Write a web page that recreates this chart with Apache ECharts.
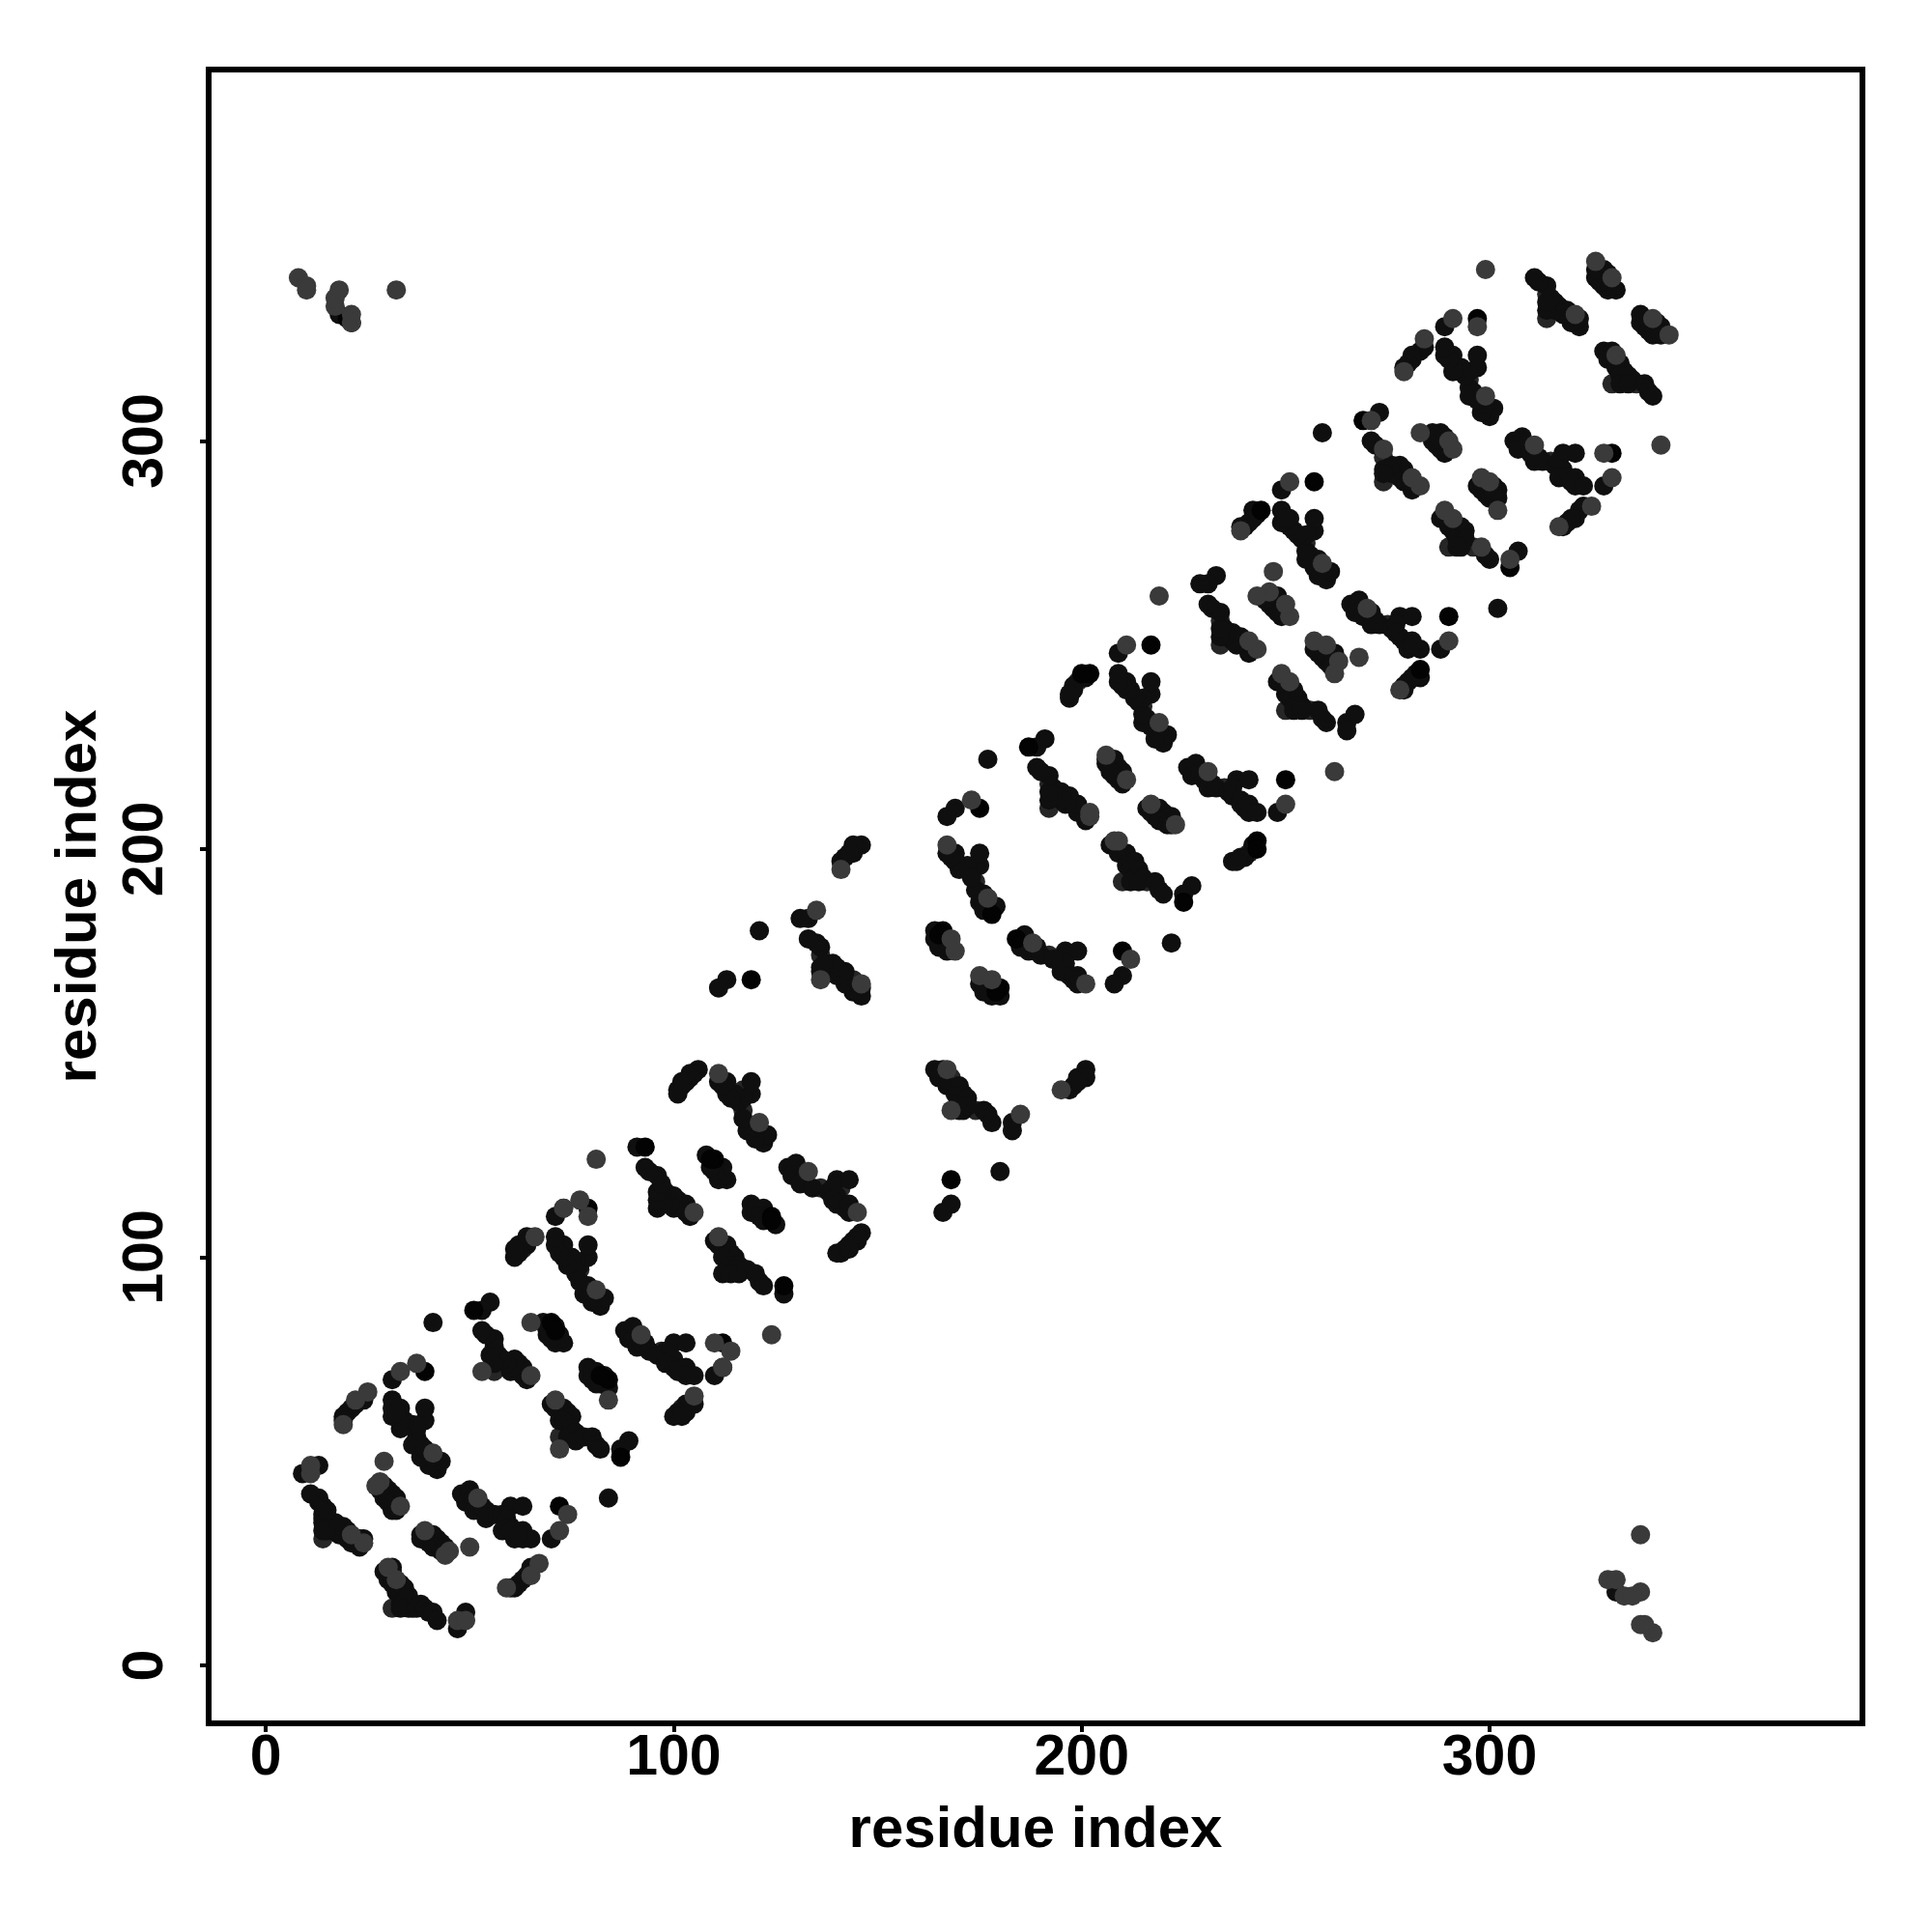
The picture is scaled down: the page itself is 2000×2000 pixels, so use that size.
<!DOCTYPE html>
<html>
<head>
<meta charset="utf-8">
<style>html,body{margin:0;padding:0;background:#fff}#c{width:2000px;height:2000px}</style>
<script src="https://cdn.jsdelivr.net/npm/echarts@6/dist/echarts.min.js"></script>
</head>
<body>
<div id="c"></div>
<script>
const tickValues = [0, 100, 200, 300];
const xTitle = "residue index";
const yTitle = "residue index";

const blackBelow = [[72,39],[84,70],[112,79],[168,119],[127,93],[180,166],[210,175],[243,202],[250,217],[290,257],[330,297],[184,178],[283,244],[243,200],[225,187],[179,165],[124,110],[124,109],[305,269],[87,51],[82,71],[20,330],[21,329]];
const blackAbove = [[39,72],[70,84],[79,112],[119,168],[93,127],[166,180],[175,210],[202,243],[217,250],[257,290],[297,330],[178,184],[244,283],[200,243],[187,225],[165,179],[110,124],[109,124],[269,305],[51,87],[71,82]];

const darkBelow = [[29,23],[31,24],[31,23],[30,21],[31,20],[33,20],[32,18],[33,17],[34,19],[33,15],[34,16],[35,17],[36,14],[35,14],[33,14],[37,14],[38,15],[39,14],[40,13],[41,13],[42,11],
[47,9],[49,13],[65,24],[63,21],[64,22],[62,20],[61,19],[60,19],[70,31],[84,41],
[48,42],[50,43],[49,40],[51,41],[54,38],[51,38],[54,36],[53,39],[60,39],[63,39],[56,37],[58,37],[59,36],[60,34],[58,33],[60,33],[63,33],[61,31],[63,31],[65,31],[62,32],
[38,32],[40,32],[41,32],[38,31],[42,31],[43,30],[40,30],[41,29],[42,29],[44,29],[43,28],
[79,73],[81,72],[79,71],[80,72],[80,70],[81,69],[83,71],[82,69],[84,68],
[70,64],[71,63],[73,63],[74,62],[75,61],[72,60],[73,60],[74,59],[75,58],[76,57],[74,56],[76,55],[78,56],[80,56],[81,54],[82,53],[89,55],[87,53],
[88,82],[90,83],[89,80],[90,80],[93,79],[91,78],[92,79],[94,77],[96,76],[100,79],[103,79],[98,77],[99,76],[100,75],[98,74],[100,73],[103,73],[101,72],[103,71],[105,71],[112,73],[110,71],
[105,64],[103,64],[103,62],[101,62],[100,61],[102,61],
[110,104],[111,103],[113,103],[112,102],[114,101],[115,100],[112,100],[113,99],[114,98],[116,98],[115,97],[112,96],[114,96],[116,96],[118,97],[120,96],[121,94],[122,93],[127,91],
[119,113],[119,111],[120,112],[122,112],[121,110],[123,110],[122,109],[125,108],
[146,106],[145,105],[145,104],[144,104],[143,103],[142,102],[141,101],[140,101],[143,102],
[128,122],[130,123],[129,120],[132,120],[131,118],[134,117],[138,116],[140,119],[143,119],[139,117],[140,115],[139,114],[140,113],[143,113],[142,112],[143,111],
[168,113],[166,111],[180,121],
[164,146],[166,146],[165,144],[167,142],[170,142],[169,140],[171,140],[170,138],[172,139],[170,136],[171,136],[176,136],[177,135],[178,133],[183,133],[183,131],[172,137],
[201,146],[199,144],[201,144],[198,142],[197,141],[199,143],
[186,179],[185,176],[187,175],[189,176],[190,174],[194,173],[196,175],[199,175],[195,172],[196,172],[195,170],[197,169],[199,169],[198,168],[199,167],[193,173],
[175,167],[177,166],[176,165],[180,164],[178,164],
[210,169],[208,167],[222,177],
[207,201],[209,199],[211,199],[213,197],[211,196],[212,195],[214,195],[213,193],[215,193],[212,192],[214,192],[218,192],[219,190],[220,189],[227,191],[225,189],
[242,201],[240,198],[239,198],[237,197],[238,197],
[216,210],[219,210],[220,209],[217,209],[218,208],[222,208],[219,207],[221,206],[222,206],
[226,220],[228,221],[227,218],[229,219],[230,217],[232,216],[231,215],[233,215],[236,214],[238,217],[241,217],[237,215],[237,213],[239,212],[239,211],[241,211],[240,210],[241,209],[243,209],[248,209],
[266,260],[268,261],[267,258],[271,258],[269,257],[272,256],[271,255],[273,255],[276,254],[278,257],[281,257],[277,255],[277,253],[278,252],[279,251],[281,251],[280,249],[283,249],[281,250],[288,249],[302,259],
[283,242],[281,242],[282,243],[280,241],[279,240],[279,239],
[257,249],[258,248],[259,247],[261,248],[262,248],[260,246],[262,245],[261,245],
[248,241],[250,241],[252,239],[250,238],[251,237],[253,237],[252,235],[254,235],[252,234],[254,234],[258,234],[259,232],[260,231],[267,233],[265,231],[265,229],
[306,300],[308,301],[307,298],[309,299],[310,297],[312,296],[311,295],[313,295],[316,294],[318,297],[321,297],[317,295],[318,293],[317,291],[319,291],[321,291],[320,290],[321,289],[323,289],[328,289],
[323,284],[322,283],[321,281],[320,281],[319,280],[318,279],
[297,289],[298,288],[299,287],[301,289],[302,288],[302,286],[300,286],[298,290],[301,287],
[288,281],[290,281],[293,279],[290,279],[291,278],[294,278],[292,276],[294,276],[293,274],[292,274],[299,272],[300,271],[307,273],
[337,331],[337,329],[338,328],[339,327],[341,329],[340,326],[342,328],[342,326],
[328,322],[330,322],[329,320],[332,319],[331,318],[333,317],[332,316],[334,316],[335,315],[332,314],[334,314],[338,314],[339,312],[340,311],
[331,18]];
const darkAbove = [[23,29],[24,31],[23,31],[21,30],[20,31],[20,33],[18,32],[17,33],[19,34],[15,33],[16,34],[17,35],[14,36],[14,35],[14,33],[14,37],[15,38],[14,39],[13,40],[13,41],[11,42],
[9,47],[13,49],[24,65],[21,63],[22,64],[20,62],[19,61],[19,60],[31,70],[41,84],
[42,48],[43,50],[40,49],[41,51],[38,54],[38,51],[36,54],[39,53],[39,60],[39,63],[37,56],[37,58],[36,59],[34,60],[33,58],[33,60],[33,63],[31,61],[31,63],[31,65],[32,62],
[32,38],[32,40],[32,41],[31,38],[31,42],[30,43],[30,40],[29,41],[29,42],[29,44],[28,43],
[73,79],[72,81],[71,79],[72,80],[70,80],[69,81],[71,83],[69,82],[68,84],
[64,70],[63,71],[63,73],[62,74],[61,75],[60,72],[60,73],[59,74],[58,75],[57,76],[56,74],[55,76],[56,78],[56,80],[54,81],[53,82],[55,89],[53,87],
[82,88],[83,90],[80,89],[80,90],[79,93],[78,91],[79,92],[77,94],[76,96],[79,100],[79,103],[77,98],[76,99],[75,100],[74,98],[73,100],[73,103],[72,101],[71,103],[71,105],[73,112],[71,110],
[64,105],[64,103],[62,103],[62,101],[61,100],[61,102],
[104,110],[103,111],[103,113],[102,112],[101,114],[100,115],[100,112],[99,113],[98,114],[98,116],[97,115],[96,112],[96,114],[96,116],[97,118],[96,120],[94,121],[93,122],[91,127],
[113,119],[111,119],[112,120],[112,122],[110,121],[110,123],[109,122],[108,125],
[106,146],[105,145],[104,145],[104,144],[103,143],[102,142],[101,141],[101,140],[102,143],
[122,128],[123,130],[120,129],[120,132],[118,131],[117,134],[116,138],[119,140],[119,143],[117,139],[115,140],[114,139],[113,140],[113,143],[112,142],[111,143],
[113,168],[111,166],[121,180],
[146,164],[146,166],[144,165],[142,167],[142,170],[140,169],[140,171],[138,170],[139,172],[136,170],[136,171],[136,176],[135,177],[133,178],[133,183],[131,183],[137,172],
[146,201],[144,199],[144,201],[142,198],[141,197],[143,199],
[179,186],[176,185],[175,187],[176,189],[174,190],[173,194],[175,196],[175,199],[172,195],[172,196],[170,195],[169,197],[169,199],[168,198],[167,199],[173,193],
[167,175],[166,177],[165,176],[164,180],[164,178],
[169,210],[167,208],[177,222],
[201,207],[199,209],[199,211],[197,213],[196,211],[195,212],[195,214],[193,213],[193,215],[192,212],[192,214],[192,218],[190,219],[189,220],[191,227],[189,225],
[201,242],[198,240],[198,239],[197,237],[197,238],
[210,216],[210,219],[209,220],[209,217],[208,218],[208,222],[207,219],[206,221],[206,222],
[220,226],[221,228],[218,227],[219,229],[217,230],[216,232],[215,231],[215,233],[214,236],[217,238],[217,241],[215,237],[213,237],[212,239],[211,239],[211,241],[210,240],[209,241],[209,243],[209,248],
[260,266],[261,268],[258,267],[258,271],[257,269],[256,272],[255,271],[255,273],[254,276],[257,278],[257,281],[255,277],[253,277],[252,278],[251,279],[251,281],[249,280],[249,283],[250,281],[249,288],[259,302],
[242,283],[242,281],[243,282],[241,280],[240,279],[239,279],
[249,257],[248,258],[247,259],[248,261],[248,262],[246,260],[245,262],[245,261],
[241,248],[241,250],[239,252],[238,250],[237,251],[237,253],[235,252],[235,254],[234,252],[234,254],[234,258],[232,259],[231,260],[233,267],[231,265],[229,265],
[300,306],[301,308],[298,307],[299,309],[297,310],[296,312],[295,311],[295,313],[294,316],[297,318],[297,321],[295,317],[293,318],[291,317],[291,319],[291,321],[290,320],[289,321],[289,323],[289,328],
[284,323],[283,322],[281,321],[281,320],[280,319],[279,318],
[289,297],[288,298],[287,299],[289,301],[288,302],[286,302],[286,300],[290,298],[287,301],
[281,288],[281,290],[279,293],[279,290],[278,291],[278,294],[276,292],[276,294],[274,293],[274,292],[272,299],[271,300],[273,307],
[331,337],[329,337],[328,338],[327,339],[329,341],[326,340],[328,342],[326,342],
[322,328],[322,330],[320,329],[319,332],[318,331],[317,333],[316,332],[316,334],[315,335],[314,332],[314,334],[314,338],[312,339],[311,340],
[18,331]];

const midBelow = [[97,77],[136,117],[141,117],[174,136],[192,174],[216,192],[235,215],[256,234],[275,255],[296,274],[315,295],[336,314],[102,63],[168,144],[72,56],[210,192],[250,234],[290,274],[330,314],[31,14],[241,199]];
const midAbove = [[77,97],[117,136],[117,141],[136,174],[174,192],[192,216],[215,235],[234,256],[255,275],[274,296],[295,315],[314,336],[63,102],[144,168],[56,72],[192,210],[234,250],[274,290],[314,330],[14,31],[199,241]];

const grayBelow = [[47,11],[49,11],[67,25],[65,22],[59,19],[74,37],[72,33],[52,41],[39,33],[45,28],[44,27],[50,29],[30,24],[32,21],
[84,65],[71,65],[72,53],[92,81],[110,79],[114,77],[112,73],[105,66],[124,81],
[111,105],[133,121],[145,111],[167,146],[168,136],[185,135],[195,141],[188,177],[201,167],[175,169],[178,168],
[208,202],[209,202],[212,173],[217,211],[223,206],[231,219],[250,211],[262,219],
[249,243],[251,241],[257,251],[260,250],[263,246],[262,243],[270,259],[290,251],[268,247],[278,239],
[289,283],[291,281],[298,274],[305,271],[298,291],[300,290],[302,283],[311,299],[328,297],[330,291],[342,299],[317,279],[325,284],
[340,330],[344,326],[331,321],[340,8],[338,10],[329,21],[331,21],[337,18],[337,32],[333,17],[335,17],[337,10]];
const grayAbove = [[11,47],[11,49],[25,67],[22,65],[19,59],[37,74],[33,72],[41,52],[33,39],[28,45],[27,44],[29,50],[24,30],[21,32],
[65,84],[65,71],[53,72],[81,92],[79,110],[77,114],[73,112],[66,105],[81,124],
[105,111],[121,133],[111,145],[146,167],[136,168],[135,185],[141,195],[177,188],[167,201],[169,175],[168,178],
[202,208],[202,209],[173,212],[211,217],[206,223],[219,231],[211,250],[219,262],
[243,249],[241,251],[251,257],[250,260],[246,263],[243,262],[259,270],[251,290],[247,268],[239,278],
[283,289],[281,291],[274,298],[271,305],[291,298],[290,300],[283,302],[299,311],[297,328],[291,330],[299,342],[279,317],[284,325],
[330,340],[326,344],[321,331],[8,340],[10,338],[21,329],[21,331],[18,337],[32,337],[17,333],[17,335],[10,337]];

const blackPoints = blackBelow.concat(blackAbove);
const darkPoints = darkBelow.concat(darkAbove);
const midPoints = midBelow.concat(midAbove);
const grayPoints = grayBelow.concat(grayAbove);

const FONT = '"Liberation Sans", Arial, sans-serif';
const chart = echarts.init(document.getElementById('c'), null, {renderer: 'canvas'});
function series(data, color, z) {
  return {type: 'scatter', data, symbol: 'circle', symbolSize: 20, z, itemStyle: {color, opacity: 1}, silent: true, clip: false};
}
function axis(name, min, max, nameGap, rotate, labelMargin, nameRotate) {
  return {
    type: 'value', min, max, name, nameLocation: 'middle', nameGap, nameRotate,
    nameTextStyle: {fontFamily: FONT, fontWeight: 'bold', fontSize: 60, color: '#000'},
    axisLine: {show: false, onZero: false}, splitLine: {show: false}, minorTick: {show: false},
    axisTick: {show: true, length: 9, inside: false, customValues: tickValues, lineStyle: {color: '#000', width: 4}},
    axisLabel: {show: true, customValues: tickValues, rotate, margin: labelMargin, hideOverlap: false,
      formatter: v => String(v),
      fontFamily: FONT, fontWeight: 'bold', fontSize: 59, color: '#000'}
  };
}
chart.setOption({
  animation: false,
  backgroundColor: '#fff',
  grid: {left: 216, top: 72, right: 72, bottom: 216, show: true, borderColor: '#000', borderWidth: 6, backgroundColor: 'transparent', containLabel: false},
  xAxis: axis(xTitle, -14, 391.4, 81, 0, 7, 0),
  yAxis: axis(yTitle, -14.2, 391, 104, 90, 35, 90),
  series: [series(midPoints, '#262626', 2), series(darkPoints, '#0f0f0f', 3), series(blackPoints, '#030303', 4), series(grayPoints, '#3a3a3a', 5)]
});
</script>
</body>
</html>
